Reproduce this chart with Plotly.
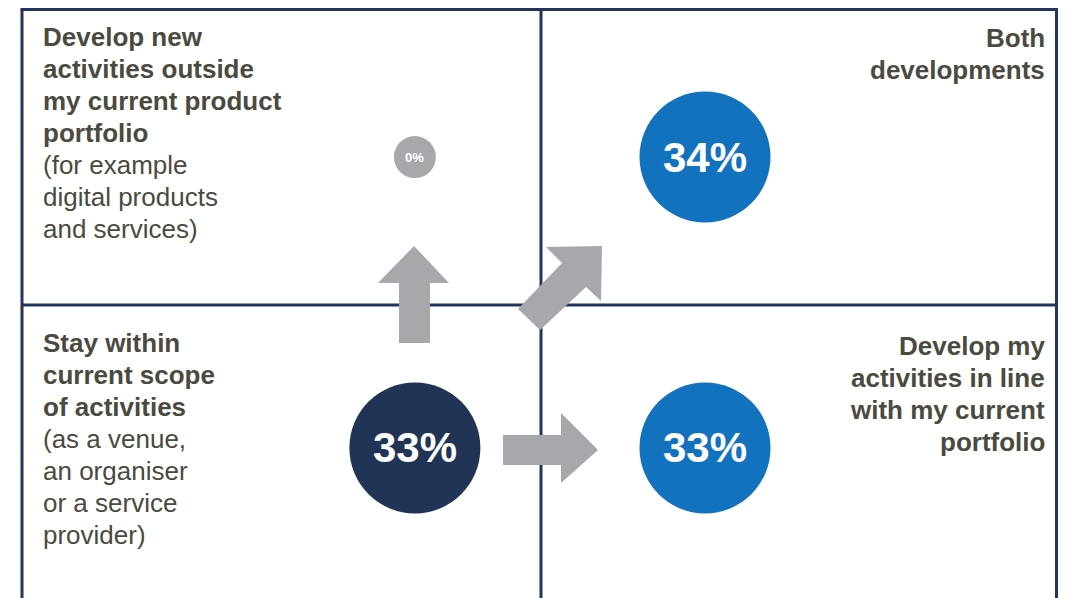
import plotly.graph_objects as go

# quadrant data (col 0 = current scope, col 1 = new; row 0 = bottom, row 1 = top)
quadrant_titles = [
    ["Develop new", "activities outside", "my current product", "portfolio"],
    ["Both", "developments"],
    ["Stay within", "current scope", "of activities"],
    ["Develop my", "activities in line", "with my current", "portfolio"],
]
quadrant_notes = [
    ["(for example", "digital products", "and services)"],
    [],
    ["(as a venue,", "an organiser", "or a service", "provider)"],
    [],
]
quadrant_col = [0, 1, 0, 1]
quadrant_row = [1, 1, 0, 0]
shares = [0, 34, 33, 33]

TEXT_COLOR = "#4a4a40"
LINE_COLOR = "#22355a"
GRAY = "#a7a8ab"
BLUE = "#1272bd"
NAVY = "#223456"
FONT = "Liberation Sans, Arial, sans-serif"

W, H = 1066, 598
OFF = 8  # page body margin: figure starts 8px into the window

# screen pixel -> axis helpers (box: x 22..1060, y 6.7 top, 305 middle)
def px(x):
    return (x - 22) / 519.0

def py(y):
    return 2 - (y - 6.7) / 298.3

fig = go.Figure()

# circle centres within each quadrant
cx_off = {0: 0.757, 1: 0.316}
cy_off = {0: 0.521, 1: 0.496}
circle_colors = [GRAY, BLUE, NAVY, BLUE]

xs = [c + cx_off[c] for c in quadrant_col]
ys = [r + cy_off[r] for r in quadrant_row]
sizes = [42 if v == 0 else 131 for v in shares]
labels = ["<b>%d%%</b>" % v for v in shares]

fig.add_trace(go.Scatter(
    x=xs, y=ys, mode="markers",
    marker=dict(size=sizes, color=circle_colors, opacity=1, line=dict(width=0)),
    hoverinfo="skip", showlegend=False,
))
for x, y, v, lab in zip(xs, ys, shares, labels):
    fig.add_annotation(x=x, y=y, text=lab, showarrow=False,
                       font=dict(family=FONT, size=13 if v == 0 else 42, color="white"))

# quadrant texts, one annotation per line (32px line pitch)
first_line = {(0, 1): 37, (1, 1): 38, (0, 0): 343, (1, 0): 346}
for t, n, c, r in zip(quadrant_titles, quadrant_notes, quadrant_col, quadrant_row):
    y0 = first_line[(c, r)]
    lines = ["<b>%s</b>" % s for s in t] + list(n)
    for i, s in enumerate(lines):
        fig.add_annotation(
            x=px(41) if c == 0 else px(1047), y=py(y0 + 32 * i), text=s, showarrow=False,
            xanchor="left" if c == 0 else "right", yanchor="middle",
            font=dict(family=FONT, size=26, color=TEXT_COLOR))

# grid lines (outer edges nudged in so the page margin does not cut them)
line = dict(color=LINE_COLOR, width=3)
top = py(9.5)
right = px(1056.5)
fig.add_shape(type="line", x0=0, x1=0, y0=-1, y1=top, line=line)
fig.add_shape(type="line", x0=1, x1=1, y0=-1, y1=top, line=line)
fig.add_shape(type="line", x0=right, x1=right, y0=-1, y1=top, line=line)
fig.add_shape(type="line", x0=px(20.5), x1=px(1058), y0=top, y1=top, line=line)
fig.add_shape(type="line", x0=0, x1=right, y0=1, y1=1, line=line)

# arrows
def arrow(points):
    d = "M " + " L ".join("%f,%f" % (px(a), py(b)) for a, b in points) + " Z"
    fig.add_shape(type="path", path=d, fillcolor=GRAY, line=dict(width=0), layer="above")

arrow([(399, 343), (399, 283), (378, 283), (414, 246), (449, 283), (430, 283), (430, 343)])
arrow([(503, 435), (561, 435), (561, 413), (598, 450), (561, 483), (561, 465), (503, 465)])
arrow([(518, 309), (562, 263), (546, 247), (602, 246), (601, 301), (586, 287), (540, 330)])

fig.update_xaxes(range=[px(OFF), px(OFF + W)], visible=False, fixedrange=True)
fig.update_yaxes(range=[py(OFF + H), py(OFF)], visible=False, fixedrange=True)
fig.update_layout(
    width=W, height=H,
    margin=dict(l=0, r=0, t=0, b=0),
    plot_bgcolor="white", paper_bgcolor="white",
    showlegend=False,
)

fig.write_html("out.html")
